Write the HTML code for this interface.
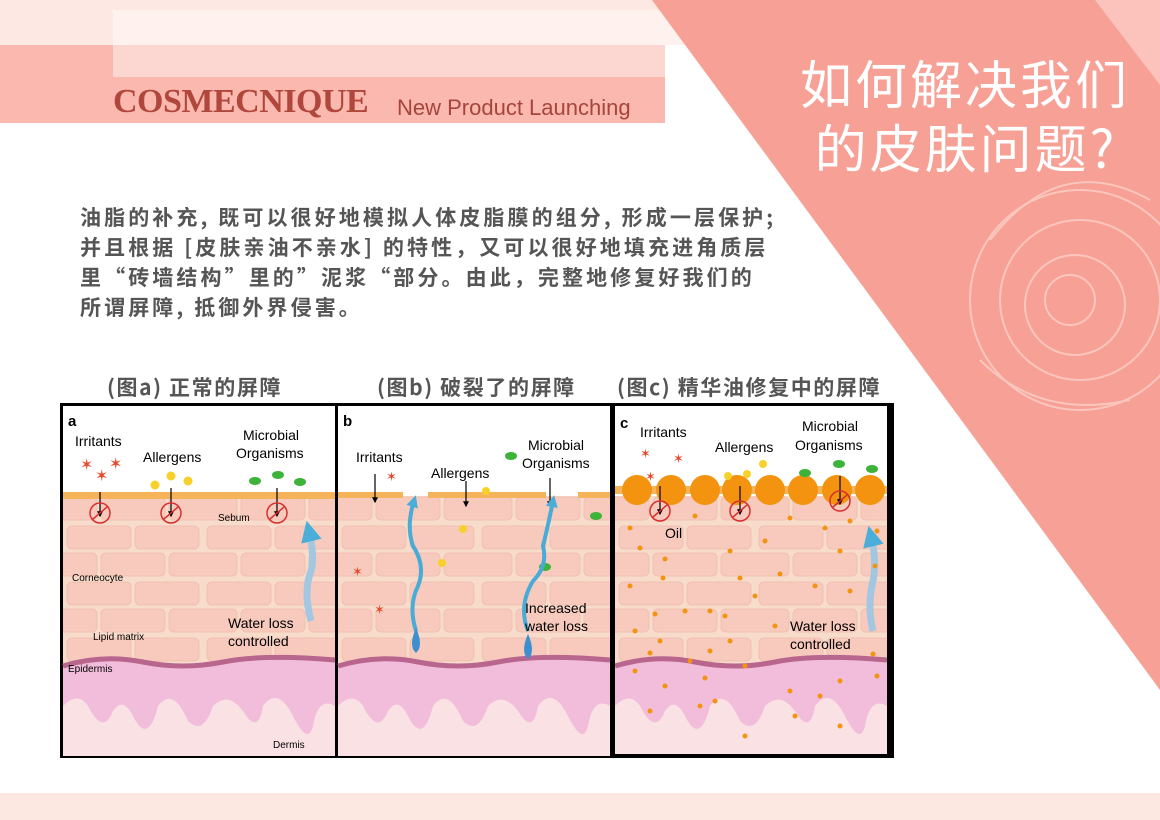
<!DOCTYPE html>
<html><head><meta charset="utf-8"><style>
body{margin:0;width:1160px;height:820px;overflow:hidden;background:#fff;position:relative;font-family:"Liberation Sans","Noto Sans CJK SC",sans-serif}
.a{position:absolute}
.cap{font-size:21px;color:#555;font-weight:bold;letter-spacing:1.6px;font-family:'Noto Sans CJK SC',sans-serif;white-space:nowrap}
</style></head><body>
<div class="a" style="left:0;top:0;width:700px;height:45px;background:#fde8e4"></div>
<div class="a" style="left:0;top:45px;width:665px;height:78px;background:#fbb8ae"></div>
<div class="a" style="left:113px;top:10px;width:590px;height:35px;background:#fff1ee"></div>
<div class="a" style="left:113px;top:45px;width:552px;height:32px;background:#fcd6d0"></div>
<div class="a" style="left:113px;top:83px;font-family:'Liberation Serif',serif;font-weight:bold;font-size:34px;color:#b0473c;letter-spacing:-0.5px">COSMECNIQUE</div>
<div class="a" style="left:397px;top:95px;font-size:22px;color:#a5463d">New Product Launching</div>
<svg class="a" style="left:0;top:0" width="1160" height="820">
<polygon points="652,0 1160,0 1160,690" fill="#f7a095"/>
<polygon points="1095,0 1160,0 1160,85" fill="#fbc3bb"/>
<g fill="none" stroke="#fbd0c8" stroke-width="2" opacity="0.8">
<circle cx="1080" cy="300" r="110"/><circle cx="1080" cy="300" r="80"/><circle cx="1075" cy="305" r="50"/><circle cx="1070" cy="300" r="25"/>
<path d="M990,240 Q1060,150 1150,200 M980,360 Q1040,420 1130,400"/>
</g>
</svg>
<div class="a" style="left:800px;top:50px;font-size:52px;line-height:64px;letter-spacing:3px;color:#fff;font-family:'Noto Sans CJK SC',sans-serif;white-space:nowrap">如何解决我们<br>&nbsp;的皮肤问题?</div>
<div class="a" style="left:80px;top:202px;font-size:21px;line-height:30px;letter-spacing:3.1px;color:#555;font-weight:bold;font-family:'Noto Sans CJK SC',sans-serif;white-space:nowrap">油脂的补充, 既可以很好地模拟人体皮脂膜的组分, 形成一层保护;<br>并且根据 [皮肤亲油不亲水] 的特性，又可以很好地填充进角质层<br>里“砖墙结构”里的”泥浆“部分。由此，完整地修复好我们的<br>所谓屏障, 抵御外界侵害。</div>
<div class="a cap" style="left:107px;top:372px">(图a) 正常的屏障</div>
<div class="a cap" style="left:377px;top:372px">(图b) 破裂了的屏障</div>
<div class="a cap" style="left:617px;top:372px">(图c) 精华油修复中的屏障</div>
<div class="a" style="left:0;top:793px;width:1160px;height:27px;background:#fde7e1"></div>

<svg class="a" style="left:60px;top:403px" width="834" height="355" font-family="Liberation Sans, DejaVu Sans, sans-serif">
<defs>
<pattern id="br" width="140" height="56" patternUnits="userSpaceOnUse" x="0" y="5">
<rect width="140" height="56" fill="#f8dccb"/>
<g fill="#f8cabd" stroke="#f1bfb1">
<rect x="4" y="3" width="64" height="23" rx="5"/>
<rect x="72" y="3" width="64" height="23" rx="5"/>
<rect x="-30" y="30" width="64" height="23" rx="5"/>
<rect x="38" y="30" width="64" height="23" rx="5"/>
<rect x="106" y="30" width="64" height="23" rx="5"/>
</g>
</pattern>
<g id="skin">
<rect width="272" height="350" fill="#fff"/>
<rect y="90" width="272" height="170" fill="url(#br)"/>
<rect y="258" width="272" height="92" fill="#f9e1e4"/>
<path d="M0,262 Q40,250 80,258 T160,258 T272,256 L272,300 Q255,290 250,320 Q245,340 230,310 Q215,280 200,300 Q195,330 180,305 Q165,285 150,300 Q140,330 125,315 Q110,280 95,300 Q85,340 70,310 Q60,290 50,305 Q40,330 25,300 Q15,285 0,300 Z" fill="#f2bddb"/>
<path d="M0,260 Q40,248 80,256 T160,256 T272,254" fill="none" stroke="#b8668e" stroke-width="5"/>
</g>
<g id="no"><circle r="10" fill="none" stroke="#d6302f" stroke-width="1.5"/><line x1="-7" y1="6" x2="7" y2="-6" stroke="#d6302f" stroke-width="1.5"/></g>
<marker id="ah" viewBox="0 0 10 10" refX="8" refY="5" markerWidth="5" markerHeight="5" orient="auto"><path d="M0,0 L10,5 L0,10 Z" fill="#000"/></marker>
<marker id="bl" viewBox="0 0 10 10" refX="5" refY="5" markerWidth="3" markerHeight="3" orient="auto"><path d="M0,0 L10,5 L0,10 Z" fill="#4aaed8"/></marker>
<clipPath id="cp"><rect width="272" height="348"/></clipPath>
</defs>
<rect width="834" height="355" fill="#000"/>
<g transform="translate(3,3)">
<use href="#skin"/>
<rect y="86" width="272" height="7" fill="#f6b45a"/>
<text x="5" y="20" font-weight="bold" font-size="15">a</text>
<text x="12" y="40" font-size="14">Irritants</text>
<text x="80" y="56" font-size="14">Allergens</text>
<text x="180" y="34" font-size="14">Microbial</text><text x="173" y="52" font-size="14">Organisms</text>
<g fill="#e84a2e" font-size="16"><text x="17" y="64">✶</text><text x="46" y="63">✶</text><text x="32" y="75">✶</text></g>
<g fill="#f7d12a"><circle cx="92" cy="79" r="4.5"/><circle cx="108" cy="70" r="4.5"/><circle cx="125" cy="75" r="4.5"/></g>
<g fill="#3eb33a"><ellipse cx="192" cy="75" rx="6" ry="4"/><ellipse cx="215" cy="69" rx="6" ry="4"/><ellipse cx="237" cy="76" rx="6" ry="4"/></g>
<g stroke="#000" stroke-width="1.2" marker-end="url(#ah)"><line x1="37" y1="86" x2="37" y2="110"/><line x1="108" y1="82" x2="108" y2="110"/><line x1="214" y1="82" x2="214" y2="110"/></g>
<use href="#no" x="37" y="107"/><use href="#no" x="108" y="107"/><use href="#no" x="214" y="107"/>
<text x="155" y="115" font-size="10">Sebum</text>
<text x="9" y="175" font-size="10">Corneocyte</text>
<text x="30" y="234" font-size="10">Lipid matrix</text>
<text x="165" y="222" font-size="14">Water loss</text><text x="165" y="240" font-size="14">controlled</text>
<text x="5" y="266" font-size="10">Epidermis</text>
<text x="210" y="342" font-size="10">Dermis</text>
<path d="M248,215 Q240,185 248,165 Q252,150 246,125" stroke="#a3c7e0" stroke-width="7" fill="none" marker-end="url(#bl)"/>
</g>
<g transform="translate(278,3)">
<use href="#skin"/>
<rect x="0" y="86" width="65" height="6" fill="#f6b45a"/><rect x="90" y="86" width="118" height="6" fill="#f6b45a"/><rect x="240" y="86" width="32" height="6" fill="#f6b45a"/>
<text x="5" y="20" font-weight="bold" font-size="15">b</text>
<text x="18" y="56" font-size="14">Irritants</text>
<text x="93" y="72" font-size="14">Allergens</text>
<text x="190" y="44" font-size="14">Microbial</text><text x="184" y="62" font-size="14">Organisms</text>
<g fill="#e84a2e" font-size="13"><text x="48" y="75">✶</text><text x="14" y="170">✶</text><text x="36" y="208">✶</text></g>
<g fill="#f7d12a"><circle cx="148" cy="85" r="4"/><circle cx="125" cy="123" r="4"/><circle cx="104" cy="157" r="4"/></g>
<g fill="#3eb33a"><ellipse cx="173" cy="50" rx="6" ry="4"/><ellipse cx="258" cy="110" rx="6" ry="4"/><ellipse cx="207" cy="161" rx="6" ry="4"/></g>
<g stroke="#000" stroke-width="1.2" marker-end="url(#ah)"><line x1="37" y1="68" x2="37" y2="96"/><line x1="128" y1="75" x2="128" y2="100"/><line x1="212" y1="72" x2="212" y2="100"/></g>
<path d="M78,225 Q70,200 80,180 Q88,160 75,140 Q68,120 76,95" stroke="#49abd6" stroke-width="4" fill="none" marker-end="url(#bl)"/>
<path d="M190,225 Q180,200 195,175 Q210,160 205,140 Q210,120 215,95" stroke="#49abd6" stroke-width="4" fill="none" marker-end="url(#bl)"/>
<path d="M78,222 Q70,240 78,247 Q86,240 78,222Z" fill="#3d8fd0"/>
<path d="M190,228 Q182,246 190,253 Q198,246 190,228Z" fill="#3d8fd0"/>
<text x="187" y="207" font-size="14">Increased</text><text x="187" y="225" font-size="14">water loss</text>
</g>
<g transform="translate(555,3)" clip-path="url(#cp)">
<use href="#skin"/>
<rect y="80" width="276" height="8" fill="#f6b45a"/>
<g fill="#f3930f"><circle cx="22" cy="84" r="15"/><circle cx="56" cy="84" r="15"/><circle cx="90" cy="84" r="15"/><circle cx="122" cy="84" r="15"/><circle cx="155" cy="84" r="15"/><circle cx="188" cy="84" r="15"/><circle cx="222" cy="84" r="15"/><circle cx="255" cy="84" r="15"/></g>
<text x="5" y="22" font-weight="bold" font-size="15">c</text>
<text x="25" y="31" font-size="14">Irritants</text>
<text x="100" y="46" font-size="14">Allergens</text>
<text x="187" y="25" font-size="14">Microbial</text><text x="180" y="44" font-size="14">Organisms</text>
<g fill="#e84a2e" font-size="13"><text x="25" y="52">✶</text><text x="58" y="57">✶</text><text x="30" y="75">✶</text></g>
<g fill="#f7d12a"><circle cx="113" cy="70" r="4"/><circle cx="132" cy="68" r="4"/><circle cx="148" cy="58" r="4"/></g>
<g fill="#3eb33a"><ellipse cx="190" cy="67" rx="6" ry="4"/><ellipse cx="224" cy="58" rx="6" ry="4"/><ellipse cx="257" cy="63" rx="6" ry="4"/></g>
<g stroke="#000" stroke-width="1.2" marker-end="url(#ah)"><line x1="45" y1="80" x2="45" y2="108"/><line x1="125" y1="80" x2="125" y2="108"/><line x1="225" y1="70" x2="225" y2="98"/></g>
<use href="#no" x="45" y="105"/><use href="#no" x="125" y="105"/><use href="#no" x="225" y="95"/>
<text x="50" y="132" font-size="14">Oil</text>
<text x="175" y="225" font-size="14">Water loss</text><text x="175" y="243" font-size="14">controlled</text>
<path d="M258,225 Q252,200 258,175 Q262,155 256,130" stroke="#a3c7e0" stroke-width="7" fill="none" marker-end="url(#bl)"/>
<g fill="#f3930f">
<circle cx="15" cy="122" r="2.5"/><circle cx="25" cy="142" r="2.5"/><circle cx="50" cy="153" r="2.5"/><circle cx="48" cy="172" r="2.5"/><circle cx="15" cy="180" r="2.5"/><circle cx="70" cy="205" r="2.5"/><circle cx="40" cy="208" r="2.5"/><circle cx="95" cy="205" r="2.5"/><circle cx="125" cy="172" r="2.5"/><circle cx="115" cy="145" r="2.5"/><circle cx="150" cy="135" r="2.5"/><circle cx="175" cy="112" r="2.5"/><circle cx="210" cy="122" r="2.5"/><circle cx="235" cy="115" r="2.5"/><circle cx="262" cy="125" r="2.5"/><circle cx="225" cy="145" r="2.5"/><circle cx="165" cy="168" r="2.5"/><circle cx="200" cy="180" r="2.5"/><circle cx="235" cy="185" r="2.5"/><circle cx="140" cy="190" r="2.5"/><circle cx="110" cy="210" r="2.5"/><circle cx="160" cy="220" r="2.5"/><circle cx="45" cy="235" r="2.5"/><circle cx="115" cy="235" r="2.5"/><circle cx="20" cy="225" r="2.5"/><circle cx="35" cy="247" r="2.5"/><circle cx="75" cy="255" r="2.5"/><circle cx="130" cy="260" r="2.5"/><circle cx="90" cy="272" r="2.5"/><circle cx="20" cy="265" r="2.5"/><circle cx="50" cy="280" r="2.5"/><circle cx="100" cy="295" r="2.5"/><circle cx="35" cy="305" r="2.5"/><circle cx="85" cy="300" r="2.5"/><circle cx="175" cy="285" r="2.5"/><circle cx="205" cy="290" r="2.5"/><circle cx="180" cy="310" r="2.5"/><circle cx="225" cy="275" r="2.5"/><circle cx="258" cy="248" r="2.5"/><circle cx="262" cy="270" r="2.5"/><circle cx="225" cy="320" r="2.5"/><circle cx="130" cy="330" r="2.5"/><circle cx="80" cy="110" r="2.5"/><circle cx="260" cy="160" r="2.5"/><circle cx="95" cy="245" r="2.5"/>
</g>
</g>
</svg>
</body></html>
